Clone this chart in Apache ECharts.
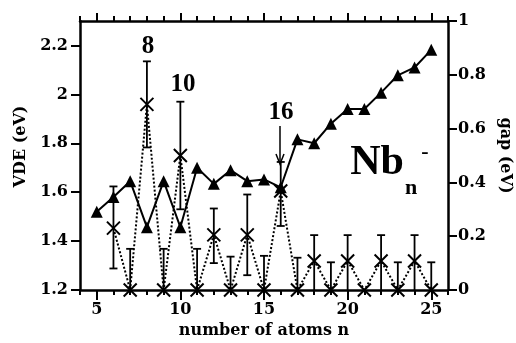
<!DOCTYPE html>
<html>
<head>
<meta charset="utf-8">
<script src="https://cdn.jsdelivr.net/npm/echarts@6/dist/echarts.min.js"></script>
<style>
html, body { margin: 0; padding: 0; background: #fff; }
#chart { width: 516px; height: 343px; }
</style>
</head>
<body>
<div id="chart"></div>
<script>
// cluster size n, VDE (left axis)
var atoms = [5, 6, 7, 8, 9, 10, 11, 12, 13, 14, 15, 16, 17, 18, 19, 20, 21, 22, 23, 24, 25];
var vde = [1.52, 1.58, 1.645, 1.457, 1.645, 1.457, 1.70, 1.634, 1.69, 1.645, 1.652, 1.62,
           1.816, 1.80, 1.88, 1.94, 1.94, 2.007, 2.078, 2.11, 2.182];

// HOMO-LUMO gap (right axis) with error range
var gapAtoms = [6, 7, 8, 9, 10, 11, 12, 13, 14, 15, 16, 17, 18, 19, 20, 21, 22, 23, 24, 25];
var gap = [0.23, 0, 0.69, 0, 0.50, 0, 0.205, 0, 0.205, 0, 0.368, 0,
           0.108, 0, 0.108, 0, 0.108, 0, 0.108, 0];
var gapLow = [0.08, 0, 0.53, 0, 0.30, 0, 0.10, 0, 0.055, 0, 0.238, 0,
              0, 0, 0, 0, 0, 0, 0, 0];
var gapHigh = [0.385, 0.153, 0.85, 0.153, 0.70, 0.153, 0.303, 0.124, 0.355, 0.127, 0.476, 0.12,
               0.204, 0.103, 0.204, 0, 0.204, 0.103, 0.204, 0.103];

var vdeTicks = [1.2, 1.4, 1.6, 1.8, 2.0, 2.2];
var gapTicks = [0, 0.2, 0.4, 0.6, 0.8, 1];

var tickFont = { color: '#000', fontFamily: 'DejaVu Serif', fontWeight: 'bold', fontSize: 16 };
var nameFont = { color: '#000', fontFamily: 'DejaVu Serif', fontWeight: 'bold', fontSize: 16 };
var annFont = 'Liberation Serif';

// grid 0: full plot (x 4..26). grid 1: inset so that its x range 5..25 lines up,
// it only carries the longer major ticks and the x labels
var plotL = 80, plotR = 68, xMin = 4, xMax = 26;
var unit = (516 - plotL - plotR) / (xMax - xMin);

function vdeData() {
    var out = [];
    for (var i = 0; i < atoms.length; i++) out.push([atoms[i], vde[i]]);
    return out;
}

function gapData() {
    var out = [];
    for (var i = 0; i < gapAtoms.length; i++) out.push([gapAtoms[i], gap[i]]);
    return out;
}

function errData() {
    var out = [];
    for (var i = 0; i < gapAtoms.length; i++) out.push([gapAtoms[i], gapLow[i], gapHigh[i]]);
    return out;
}

function renderErr(params, api) {
    var x = api.value(0), lo = api.value(1), hi = api.value(2);
    if (hi <= lo) return;
    var top = api.coord([x, hi]);
    var bot = api.coord([x, lo]);
    var hw = 4;
    var st = { stroke: '#000', lineWidth: 1.8 };
    var kids = [
        { type: 'line', shape: { x1: top[0], y1: top[1], x2: bot[0], y2: bot[1] }, style: st },
        { type: 'line', shape: { x1: top[0] - hw, y1: top[1], x2: top[0] + hw, y2: top[1] }, style: st }
    ];
    if (lo > 0) {
        kids.push({ type: 'line', shape: { x1: bot[0] - hw, y1: bot[1], x2: bot[0] + hw, y2: bot[1] }, style: st });
    }
    return { type: 'group', children: kids };
}

function minorAxis(pos) {
    return {
        type: 'value', gridIndex: 0, position: pos, min: xMin, max: xMax, interval: 1,
        splitLine: { show: false },
        axisLine: { show: true, onZero: false, lineStyle: { color: '#000', width: 2.5 } },
        axisTick: { show: true, length: 5, lineStyle: { color: '#000', width: 2 } },
        axisLabel: { show: false }
    };
}

function majorAxis(pos, len) {
    return {
        type: 'value', gridIndex: 1, position: pos, min: 5, max: 25, interval: 5,
        splitLine: { show: false },
        axisLine: { show: false, onZero: false },
        axisTick: { show: true, length: len, lineStyle: { color: '#000', width: 2 } },
        axisLabel: { show: false }
    };
}

var chart = echarts.init(document.getElementById('chart'));
chart.setOption({
    animation: false,
    backgroundColor: '#fff',
    grid: [
        { left: plotL, right: plotR, top: 21, bottom: 53, containLabel: false, outerBoundsMode: 'none' },
        { left: plotL + unit, right: plotR + unit, top: 21, bottom: 53, containLabel: false, outerBoundsMode: 'none' }
    ],
    xAxis: [
        minorAxis('bottom'),
        minorAxis('top'),
        Object.assign(majorAxis('bottom', 10), {
            name: 'number of atoms n', nameLocation: 'middle', nameGap: 33, nameTextStyle: nameFont,
            axisLabel: Object.assign({ show: true, margin: 12 }, tickFont)
        }),
        majorAxis('top', 8)
    ],
    yAxis: [
        {
            type: 'value', gridIndex: 0, position: 'left', min: 1.2, max: 2.3,
            name: 'VDE (eV)', nameLocation: 'middle', nameGap: 50, nameRotate: 90,
            nameTextStyle: Object.assign({ padding: [0, 0, 0, 18] }, nameFont),
            splitLine: { show: false },
            axisLine: { show: true, onZero: false, lineStyle: { color: '#000', width: 2.5 } },
            axisTick: { customValues: vdeTicks, length: 9, lineStyle: { color: '#000', width: 2 } },
            axisLabel: Object.assign({
                customValues: vdeTicks, margin: 12,
                formatter: function (v) { return String(Math.round(v * 10) / 10); }
            }, tickFont)
        },
        {
            type: 'value', gridIndex: 0, position: 'right', min: 0, max: 1,
            name: 'gap (eV)', nameLocation: 'middle', nameGap: 46, nameRotate: -90,
            nameTextStyle: nameFont,
            splitLine: { show: false },
            axisLine: { show: true, onZero: false, lineStyle: { color: '#000', width: 2.5 } },
            axisTick: { customValues: gapTicks, length: 9, lineStyle: { color: '#000', width: 2 } },
            axisLabel: Object.assign({
                customValues: gapTicks, margin: 10,
                formatter: function (v) { return String(Math.round(v * 10) / 10); }
            }, tickFont)
        },
        { type: 'value', gridIndex: 1, min: 0, max: 1, show: false }
    ],
    series: [
        {
            name: 'gap err', type: 'custom', xAxisIndex: 0, yAxisIndex: 1,
            renderItem: renderErr, data: errData(), z: 3
        },
        {
            name: 'gap', type: 'line', xAxisIndex: 0, yAxisIndex: 1,
            data: gapData(),
            symbol: 'path://M0,0L10,10M10,0L0,10', symbolSize: 13,
            itemStyle: { color: '#000', borderColor: '#000', borderWidth: 2 },
            lineStyle: { color: '#000', width: 2, type: [2, 2] },
            z: 4
        },
        {
            name: 'VDE', type: 'line', xAxisIndex: 0, yAxisIndex: 0,
            data: vdeData(),
            symbol: 'triangle', symbolSize: 12,
            itemStyle: { color: '#000' },
            lineStyle: { color: '#000', width: 2 },
            z: 5
        }
    ],
    graphic: [
        { type: 'text', x: 148, y: 47, style: { text: '8', font: 'bold 25px ' + annFont, fill: '#000', align: 'center', verticalAlign: 'middle' } },
        { type: 'text', x: 183, y: 85, style: { text: '10', font: 'bold 25px ' + annFont, fill: '#000', align: 'center', verticalAlign: 'middle' } },
        { type: 'text', x: 281, y: 113, style: { text: '16', font: 'bold 25px ' + annFont, fill: '#000', align: 'center', verticalAlign: 'middle' } },
        { type: 'line', shape: { x1: 280, y1: 126, x2: 280, y2: 163 }, style: { stroke: '#000', lineWidth: 1.5 } },
        { type: 'polyline', shape: { points: [[276, 154], [280, 164], [284, 154]] }, style: { stroke: '#000', lineWidth: 1.5, fill: null } },
        { type: 'text', x: 377, y: 163, style: { text: 'Nb', font: 'bold 42px ' + annFont, fill: '#000', align: 'center', verticalAlign: 'middle' } },
        { type: 'text', x: 411, y: 188, style: { text: 'n', font: 'bold 22px ' + annFont, fill: '#000', align: 'center', verticalAlign: 'middle' } },
        { type: 'text', x: 425, y: 152, style: { text: '-', font: 'bold 22px ' + annFont, fill: '#000', align: 'center', verticalAlign: 'middle' } }
    ]
});
</script>
</body>
</html>
